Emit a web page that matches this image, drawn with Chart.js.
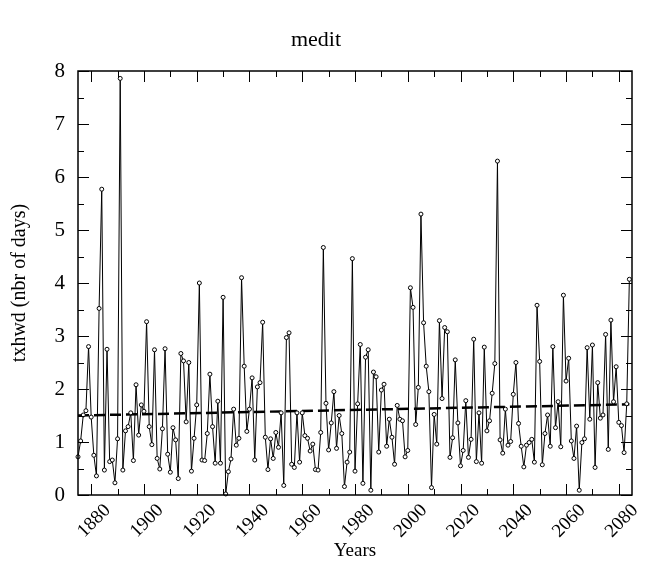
<!DOCTYPE html>
<html>
<head>
<meta charset="utf-8">
<script src="https://cdn.jsdelivr.net/npm/chart.js@4.4.1/dist/chart.umd.min.js"></script>
<style>
  html, body { margin: 0; padding: 0; background: #fff; }
</style>
</head>
<body>
<canvas id="myChart" width="646" height="566"></canvas>
<script>
// one value per year, starting at firstYear
var firstYear = 1875;
var txhwd = [
	0.72, 1.02, 1.51, 1.59, 2.80, 1.47, 0.75, 0.36, 3.52, 5.77, // 1875
	0.47, 2.75, 0.63, 0.66, 0.23, 1.06, 7.86, 0.47, 1.21, 1.29, // 1885
	1.55, 0.65, 2.08, 1.13, 1.70, 1.58, 3.27, 1.29, 0.95, 2.74, // 1895
	0.69, 0.49, 1.25, 2.76, 0.77, 0.43, 1.27, 1.04, 0.31, 2.67, // 1905
	2.53, 1.38, 2.50, 0.45, 1.07, 1.70, 4.00, 0.66, 0.65, 1.16, // 1915
	2.28, 1.29, 0.60, 1.77, 0.60, 3.73, 0.02, 0.44, 0.68, 1.62, // 1925
	0.94, 1.07, 4.10, 2.43, 1.20, 1.62, 2.21, 0.66, 2.04, 2.12, // 1935
	3.26, 1.09, 0.48, 1.06, 0.69, 1.18, 0.90, 1.55, 0.18, 2.97, // 1945
	3.06, 0.58, 0.52, 1.55, 0.62, 1.55, 1.12, 1.07, 0.83, 0.96, // 1955
	0.48, 0.47, 1.18, 4.67, 1.73, 0.85, 1.36, 1.95, 0.88, 1.50, // 1965
	1.16, 0.16, 0.62, 0.81, 4.46, 0.45, 1.72, 2.84, 0.22, 2.60, // 1975
	2.74, 0.09, 2.32, 2.23, 0.81, 1.98, 2.09, 0.92, 1.43, 1.09, // 1985
	0.58, 1.69, 1.43, 1.40, 0.72, 0.84, 3.91, 3.54, 1.33, 2.03, // 1995
	5.30, 3.25, 2.43, 1.95, 0.14, 1.52, 0.96, 3.29, 1.82, 3.16, // 2005
	3.08, 0.71, 1.08, 2.55, 1.36, 0.55, 0.84, 1.78, 0.71, 1.05, // 2015
	2.94, 0.63, 1.55, 0.60, 2.79, 1.21, 1.40, 1.92, 2.48, 6.30, // 2025
	1.04, 0.79, 1.62, 0.94, 1.01, 1.90, 2.50, 1.35, 0.92, 0.53, // 2035
	0.94, 0.99, 1.05, 0.62, 3.58, 2.52, 0.57, 1.16, 1.51, 0.92, // 2045
	2.80, 1.27, 1.76, 0.91, 3.77, 2.15, 2.58, 1.02, 0.69, 1.30, // 2055
	0.09, 0.99, 1.06, 2.78, 1.43, 2.83, 0.52, 2.12, 1.45, 1.51, // 2065
	3.03, 0.86, 3.30, 1.76, 2.42, 1.37, 1.31, 0.80, 1.72, 4.07  // 2075
];
var trendYears = [1875, 2084];
var trendValues = [1.50, 1.71];
var yearTicks = [1880, 1900, 1920, 1940, 1960, 1980, 2000, 2020, 2040, 2060, 2080];
var minorYearTicks = [1890, 1910, 1930, 1950, 1970, 1990, 2010, 2030, 2050, 2070];
var yTicks = [0, 1, 2, 3, 4, 5, 6, 7, 8];
var yMinorTicks = [0.5, 1.5, 2.5, 3.5, 4.5, 5.5, 6.5, 7.5];

var serif = "'Liberation Serif', 'Times New Roman', Times, serif";

var points = [];
for (var i = 0; i < txhwd.length; i++) {
	points.push({ x: firstYear + i, y: txhwd[i] });
}
var trend = [];
for (var j = 0; j < trendYears.length; j++) {
	trend.push({ x: trendYears[j], y: trendValues[j] });
}

// box round the plot, ticks pointing inwards, rotated year labels
var framePlugin = {
	id: "frame",
	afterDraw: function (chart) {
		var ctx = chart.ctx;
		var a = chart.chartArea;
		var xs = chart.scales.x;
		var ys = chart.scales.y;
		ctx.save();
		ctx.strokeStyle = "#000";
		ctx.lineWidth = 1;
		ctx.beginPath();
		yTicks.forEach(function (v) {
			var p = Math.round(ys.getPixelForValue(v)) + 0.5;
			ctx.moveTo(a.left, p); ctx.lineTo(a.left + 11, p);
			ctx.moveTo(a.right, p); ctx.lineTo(a.right - 11, p);
		});
		yMinorTicks.forEach(function (v) {
			var p = Math.round(ys.getPixelForValue(v)) + 0.5;
			ctx.moveTo(a.left, p); ctx.lineTo(a.left + 6, p);
			ctx.moveTo(a.right, p); ctx.lineTo(a.right - 6, p);
		});
		yearTicks.forEach(function (v) {
			var p = Math.round(xs.getPixelForValue(v)) + 0.5;
			ctx.moveTo(p, a.bottom); ctx.lineTo(p, a.bottom - 11);
			ctx.moveTo(p, a.top); ctx.lineTo(p, a.top + 11);
		});
		minorYearTicks.forEach(function (v) {
			var p = Math.round(xs.getPixelForValue(v)) + 0.5;
			ctx.moveTo(p, a.bottom); ctx.lineTo(p, a.bottom - 6);
			ctx.moveTo(p, a.top); ctx.lineTo(p, a.top + 6);
		});
		ctx.stroke();
		ctx.lineWidth = 1.5;
		ctx.strokeRect(a.left, a.top, a.right - a.left, a.bottom - a.top);

		ctx.fillStyle = "#000";
		ctx.font = "19px " + serif;
		ctx.textAlign = "center";
		ctx.textBaseline = "middle";
		yearTicks.forEach(function (v) {
			var p = xs.getPixelForValue(v);
			ctx.save();
			ctx.translate(p + 3, a.bottom + 26);
			ctx.rotate(-Math.PI / 4);
			ctx.fillText(String(v), 0, 0);
			ctx.restore();
		});
		ctx.restore();
	},
};

var ctx = document.getElementById("myChart").getContext("2d");
var myChart = new Chart(ctx, {
	type: "line",
	data: {
		datasets: [
			{
				label: "txhwd",
				data: points,
				borderColor: "#000",
				borderWidth: 1,
				pointRadius: 2,
				pointBorderWidth: 1,
				pointBackgroundColor: "#fff",
				pointBorderColor: "#000",
				tension: 0,
				clip: false,
			},
			{
				label: "trend",
				data: trend,
				borderColor: "#000",
				borderWidth: 2.5,
				borderDash: [11, 5],
				pointRadius: 0,
				tension: 0,
			},
		],
	},
	options: {
		responsive: false,
		animation: false,
		layout: { padding: { left: 0, right: 14, top: 0, bottom: 0 } },
		plugins: {
			legend: { display: false },
			tooltip: { enabled: false },
			title: {
				display: true,
				text: "medit",
				color: "#000",
				font: { family: serif, size: 22, weight: "normal", lineHeight: 1.2 },
				padding: { top: 27, bottom: 17.6 },
			},
		},
		scales: {
			x: {
				type: "linear",
				min: 1875,
				max: 2085,
				grid: { display: false },
				border: { display: false },
				ticks: { display: false },
				title: {
					display: true,
					text: "Years",
					color: "#000",
					font: { family: serif, size: 19, lineHeight: 1.2 },
					padding: { top: 0, bottom: 4 },
				},
				afterFit: function (s) {
					s.height = 71;
				},
			},
			y: {
				min: 0,
				max: 8,
				grid: { display: false },
				border: { display: false },
				ticks: { stepSize: 1, color: "#000", padding: 5, font: { family: serif, size: 21 } },
				title: {
					display: true,
					text: "txhwd (nbr of days)",
					color: "#000",
					font: { family: serif, size: 20, lineHeight: 1.2 },
					padding: { top: 8, bottom: 0 },
				},
				afterFit: function (s) {
					s.width = 78;
				},
			},
		},
	},
	plugins: [framePlugin],
});
</script>
</body>
</html>
